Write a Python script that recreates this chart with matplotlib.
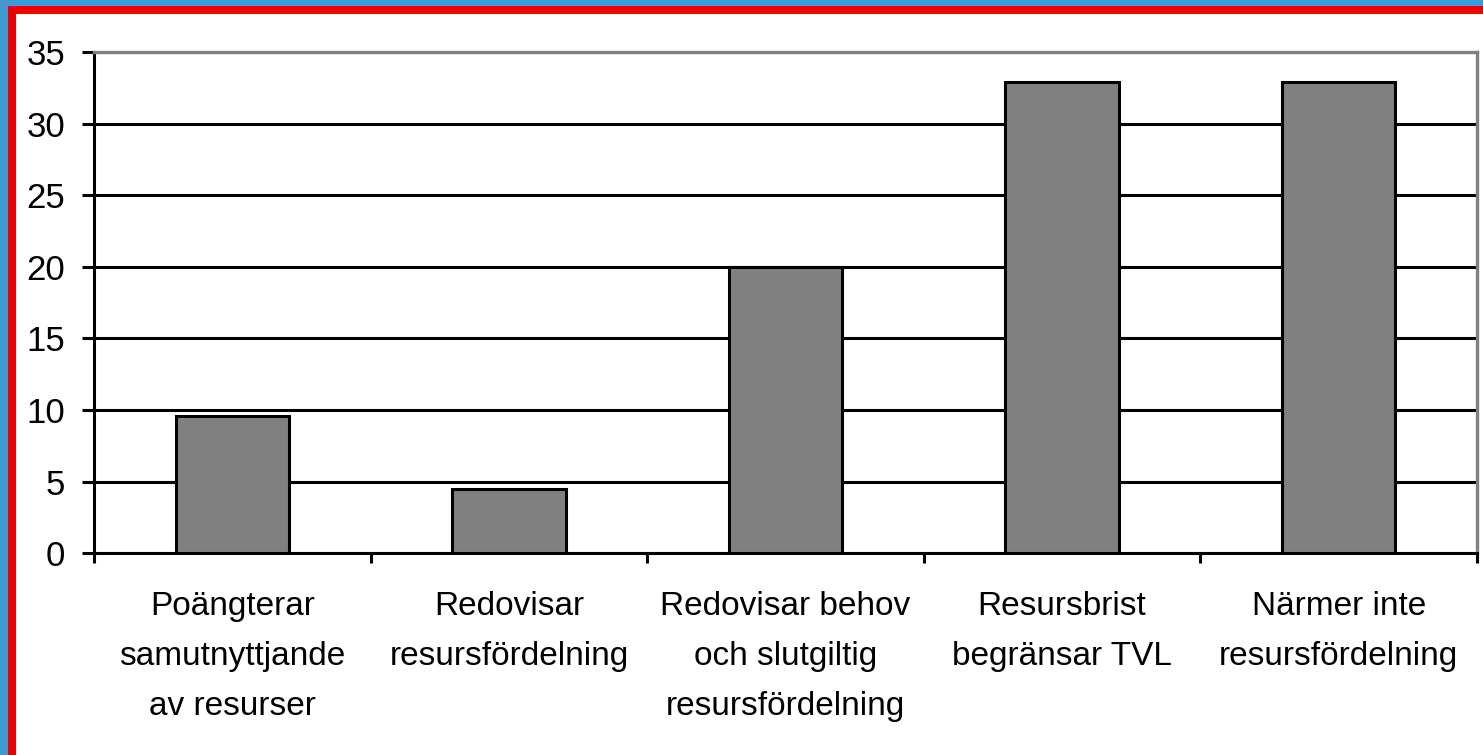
import matplotlib
matplotlib.use("Agg")
import matplotlib.pyplot as plt
from matplotlib.patches import Rectangle

categories = ["Poängterar\nsamutnyttjande\nav resurser",
              "Redovisar\nresursfördelning",
              "Redovisar behov\noch slutgiltig\nresursfördelning",
              "Resursbrist\nbegränsar TVL",
              "Närmer inte\nresursfördelning"]
values = [9.6, 4.5, 20.0, 32.9, 32.9]
yticks = [0, 5, 10, 15, 20, 25, 30, 35]

plt.rcParams['font.family'] = ['Liberation Sans', 'DejaVu Sans']

W, H = 1483, 755
fig = plt.figure(figsize=(W / 100, H / 100), dpi=100)
fig.patch.set_facecolor("white")

# frame around the picture: blue outside, red inside
blue = "#3d9bd1"
red = "#ee0000"
fig.add_artist(Rectangle((0, 0), 8 / W, 1, transform=fig.transFigure, color=blue, lw=0))
fig.add_artist(Rectangle((0, 1 - 6 / H), 1, 6 / H, transform=fig.transFigure, color=blue, lw=0))
fig.add_artist(Rectangle((8 / W, 0), 8 / W, 1 - 6 / H, transform=fig.transFigure, color=red, lw=0))
fig.add_artist(Rectangle((8 / W, 1 - 14 / H), 1 - 8 / W, 8 / H, transform=fig.transFigure, color=red, lw=0))

ax = fig.add_axes([94 / W, 1 - 553.3 / H, (1477 - 94) / W, (553.3 - 52) / H])

x = list(range(len(categories)))
ax.bar(x, values, width=0.41, color="#808080", edgecolor="black", linewidth=2.2, zorder=3)

ax.set_xlim(-0.5, len(categories) - 0.5)
ax.set_ylim(0, 35)
ax.set_yticks(yticks)
ax.set_yticklabels([str(v) for v in yticks], fontsize=25)
ax.yaxis.grid(True, color="black", linewidth=2.2, zorder=1)
ax.set_axisbelow(True)

ax.set_xticks(x)
ax.set_xticklabels(categories, fontsize=24, linespacing=1.8)
ax.set_xticks([i - 0.5 for i in range(len(categories) + 1)], minor=True)
ax.tick_params(axis="x", which="major", length=0, pad=27)
ax.tick_params(axis="x", which="minor", length=7.2, width=2.2, direction="out")
ax.tick_params(axis="y", length=8.6, width=2.2, pad=12)

for side in ["left", "bottom"]:
    ax.spines[side].set_color("black")
    ax.spines[side].set_linewidth(2.2)
for side in ["top", "right"]:
    ax.spines[side].set_color("#808080")
    ax.spines[side].set_linewidth(2.4)

fig.savefig("out.png", dpi=100, facecolor=fig.get_facecolor())
